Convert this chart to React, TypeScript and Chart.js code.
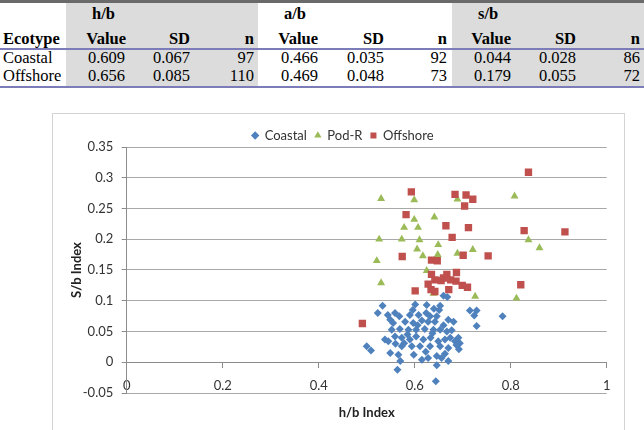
import React, { useEffect, useRef } from "react";
import { Chart, registerables } from "chart.js";

Chart.register(...registerables);

// ---- Table data ----
const ecotypes = ["Coastal", "Offshore"];
const hbValue = [0.609, 0.656];
const hbSD = [0.067, 0.085];
const hbN = [97, 110];
const abValue = [0.466, 0.469];
const abSD = [0.035, 0.048];
const abN = [92, 73];
const sbValue = [0.044, 0.179];
const sbSD = [0.028, 0.055];
const sbN = [86, 72];
const groupLabels = ["h/b", "a/b", "s/b"];
const colLabels = ["Value", "SD", "n"];

// ---- Scatter data ----
const coastalX = [0.500,0.509,0.523,0.533,0.538,0.545,0.544,0.549,0.549,0.552,0.555,0.559,0.559,0.564,0.566,0.568,0.569,0.570,0.573,0.573,0.580,0.587,0.590,0.590,0.594,0.597,0.601,0.603,0.603,0.608,0.611,0.615,0.615,0.618,0.621,0.624,0.628,0.628,0.632,0.632,0.633,0.639,0.642,0.644,0.646,0.646,0.646,0.649,0.651,0.653,0.653,0.653,0.656,0.660,0.663,0.667,0.668,0.670,0.670,0.670,0.674,0.681,0.684,0.691,0.692,0.694,0.715,0.724,0.729,0.729,0.783,0.578,0.606,0.637,0.660,0.623,0.585,0.640,0.677,0.598,0.687,0.560,0.625,0.663,0.596];
const coastalY = [0.026,0.019,0.080,0.092,0.037,0.034,0.077,0.069,0.015,0.053,0.064,0.080,0.042,-0.012,0.012,0.075,0.054,0.002,0.040,0.026,0.066,0.053,0.077,0.037,0.026,0.064,0.094,0.053,0.042,0.077,0.026,0.068,0.004,0.037,0.054,0.080,0.066,0.007,0.075,0.026,0.040,0.053,0.066,-0.031,0.075,0.010,-0.005,0.034,0.085,0.092,0.053,0.026,0.007,0.108,0.037,0.050,0.106,0.069,0.023,0.002,0.040,0.066,0.034,0.040,0.021,0.031,0.084,0.076,0.084,0.059,0.075,0.031,0.060,0.047,0.060,0.017,0.045,0.087,0.052,0.012,0.028,0.030,0.093,0.014,0.085];

const podRX = [0.530,0.599,0.689,0.808,0.599,0.641,0.578,0.607,0.526,0.573,0.610,0.649,0.837,0.860,0.605,0.617,0.648,0.689,0.721,0.521,0.625,0.530,0.726,0.812,0.639];
const podRY = [0.266,0.264,0.265,0.270,0.232,0.236,0.219,0.219,0.200,0.200,0.199,0.191,0.199,0.186,0.184,0.173,0.175,0.177,0.183,0.165,0.149,0.129,0.107,0.104,0.112];

const offshoreX = [0.837,0.593,0.684,0.707,0.721,0.704,0.582,0.665,0.712,0.828,0.913,0.678,0.574,0.701,0.753,0.635,0.647,0.687,0.635,0.667,0.660,0.642,0.675,0.686,0.628,0.699,0.710,0.821,0.601,0.634,0.642,0.671,0.491,0.655];
const offshoreY = [0.309,0.277,0.273,0.272,0.265,0.254,0.240,0.222,0.219,0.214,0.212,0.203,0.172,0.174,0.173,0.166,0.165,0.146,0.143,0.143,0.137,0.134,0.134,0.132,0.127,0.125,0.122,0.126,0.116,0.118,0.115,0.118,0.063,0.133];

const xTicks = [0, 0.2, 0.4, 0.6, 0.8, 1];
const yTicks = [-0.05, 0, 0.05, 0.1, 0.15, 0.2, 0.25, 0.3, 0.35];

const TABLE_FONT = '"Liberation Serif", "Times New Roman", serif';
const CHART_FONT = "Lato";

function Txt(props: { x: number; y: number; right?: boolean; bold?: boolean; children: React.ReactNode }) {
  const { x, y, right, bold, children } = props;
  const style: React.CSSProperties = {
    position: "absolute",
    top: y - 10,
    height: 20,
    lineHeight: "20px",
    fontFamily: TABLE_FONT,
    fontSize: 16.5,
    fontWeight: bold ? "bold" : "normal",
    color: "#000",
    whiteSpace: "nowrap",
  };
  if (right) style.right = 644 - x;
  else style.left = x;
  return <div style={style}>{children}</div>;
}

function DataTable() {
  const groupLeft = [92, 284, 478];
  const headRight = [[126, 190, 254], [318, 384, 447], [511, 576, 640]];
  const dataRight = [[125, 190, 254], [318, 384, 447], [511, 576, 640]];
  const rowsY = [58, 76];
  const groups = [
    [hbValue, hbSD, hbN],
    [abValue, abSD, abN],
    [sbValue, sbSD, sbN],
  ];
  const items: React.ReactNode[] = [];
  groupLabels.forEach((g, gi) => {
    items.push(<Txt key={"g" + gi} x={groupLeft[gi]} y={14} bold>{g}</Txt>);
    colLabels.forEach((c, ci) => {
      items.push(<Txt key={"h" + gi + ci} x={headRight[gi][ci]} y={39} right bold>{c}</Txt>);
    });
  });
  items.push(<Txt key="eco" x={3} y={39} bold>Ecotype</Txt>);
  ecotypes.forEach((e, ri) => {
    items.push(<Txt key={"e" + ri} x={3} y={rowsY[ri]}>{e}</Txt>);
    groups.forEach((grp, gi) => {
      grp.forEach((arr, ci) => {
        const v = arr[ri];
        const s = ci === 2 ? String(v) : (v as number).toFixed(3);
        items.push(<Txt key={"d" + ri + gi + ci} x={dataRight[gi][ci]} y={rowsY[ri]} right>{s}</Txt>);
      });
    });
  });
  return (
    <div style={{ position: "absolute", left: 0, top: 0, width: 644, height: 92 }}>
      <div style={{ position: "absolute", left: 66, top: 3, width: 192, height: 84, background: "#dcdcdc" }} />
      <div style={{ position: "absolute", left: 452, top: 3, width: 192, height: 84, background: "#dcdcdc" }} />
      <div style={{ position: "absolute", left: 0, top: 0, width: 644, height: 3, background: "#6a6a6a" }} />
      <div style={{ position: "absolute", left: 0, top: 48, width: 644, height: 2, background: "#7c7cb8" }} />
      <div style={{ position: "absolute", left: 0, top: 86, width: 644, height: 2, background: "#7c7cb8" }} />
      {items}
    </div>
  );
}

export default function App() {
  const ref = useRef<HTMLCanvasElement>(null);
  useEffect(() => {
    const canvas = ref.current;
    if (!canvas) return;
    const toPts = (xs: number[], ys: number[]) => xs.map((x, i) => ({ x, y: ys[i] }));
    const tickFont = { family: CHART_FONT, size: 13 };
    const chart = new Chart(canvas, {
      type: "scatter",
      data: {
        datasets: [
          {
            label: "Coastal",
            data: toPts(coastalX, coastalY),
            pointStyle: "rectRot",
            pointRadius: 4,
            backgroundColor: "#4F81BD",
            borderColor: "#4F81BD",
            borderWidth: 0,
            order: 3,
          },
          {
            label: "Pod-R",
            data: toPts(podRX, podRY),
            pointStyle: "triangle",
            pointRadius: 4.6,
            backgroundColor: "#9BBB59",
            borderColor: "#9BBB59",
            borderWidth: 0,
            order: 2,
          },
          {
            label: "Offshore",
            data: toPts(offshoreX, offshoreY),
            pointStyle: "rect",
            pointRadius: 5.2,
            backgroundColor: "#C0504D",
            borderColor: "#C0504D",
            borderWidth: 0,
            order: 1,
          },
        ],
      },
      options: {
        responsive: false,
        animation: false,
        events: [],
        layout: { padding: { left: 26, right: 17.3, top: 7, bottom: 58 } },
        plugins: {
          legend: {
            position: "top",
            maxHeight: 26,
            labels: {
              usePointStyle: true,
              boxWidth: 6,
              boxHeight: 6,
              padding: 8,
              font: { family: CHART_FONT, size: 13 },
              color: "#333",
              sort: (a: any, b: any) => a.datasetIndex - b.datasetIndex,
            },
          },
          tooltip: { enabled: false },
        },
        scales: {
          x: {
            type: "linear",
            position: { y: 0 } as any,
            min: 0,
            max: 1,
            afterBuildTicks: (s: any) => {
              s.ticks = xTicks.map((v) => ({ value: v }));
            },
            afterFit: (s: any) => {
              s.height = 58;
            },
            ticks: {
              padding: 10.5,
              font: tickFont,
              color: "#333",
              maxRotation: 0,
              callback: (v: any) => String(v),
            },
            grid: { drawOnChartArea: false, drawTicks: true, tickLength: 5, color: "#8c8c8c" },
            border: { display: true, color: "#8c8c8c" },
            title: {
              display: true,
              text: "h/b Index",
              font: { family: CHART_FONT, size: 13, weight: "bold" },
              color: "#222",
              padding: { top: 0, bottom: 0 },
            },
          },
          y: {
            type: "linear",
            position: "left",
            min: -0.05,
            max: 0.35,
            afterBuildTicks: (s: any) => {
              s.ticks = yTicks.map((v) => ({ value: v }));
            },
            afterFit: (s: any) => {
              s.width = 47.7;
            },
            ticks: {
              padding: 8.4,
              font: tickFont,
              color: "#333",
              callback: (v: any) => String(v),
            },
            grid: { color: "#a8a8a8", tickLength: 5, tickColor: "#8c8c8c", drawTicks: true },
            border: { display: true, color: "#8c8c8c" },
            title: {
              display: true,
              text: "S/b Index",
              font: { family: CHART_FONT, size: 13, weight: "bold" },
              color: "#222",
              padding: { top: -9.5, bottom: 0 },
            },
          },
        },
      },
    } as any);
    return () => chart.destroy();
  }, []);

  return (
    <div style={{ position: "relative", width: 644, height: 430, overflow: "hidden", background: "#fff" }}>
      <style>{"body{margin:0;}"}</style>
      <DataTable />
      <div
        style={{
          position: "absolute",
          left: 52,
          top: 113,
          width: 573,
          height: 345,
          border: "1px solid #d4d4d4",
          boxSizing: "border-box",
        }}
      >
        <canvas ref={ref} width={571} height={337} style={{ display: "block", width: 571, height: 337 }} />
      </div>
    </div>
  );
}
